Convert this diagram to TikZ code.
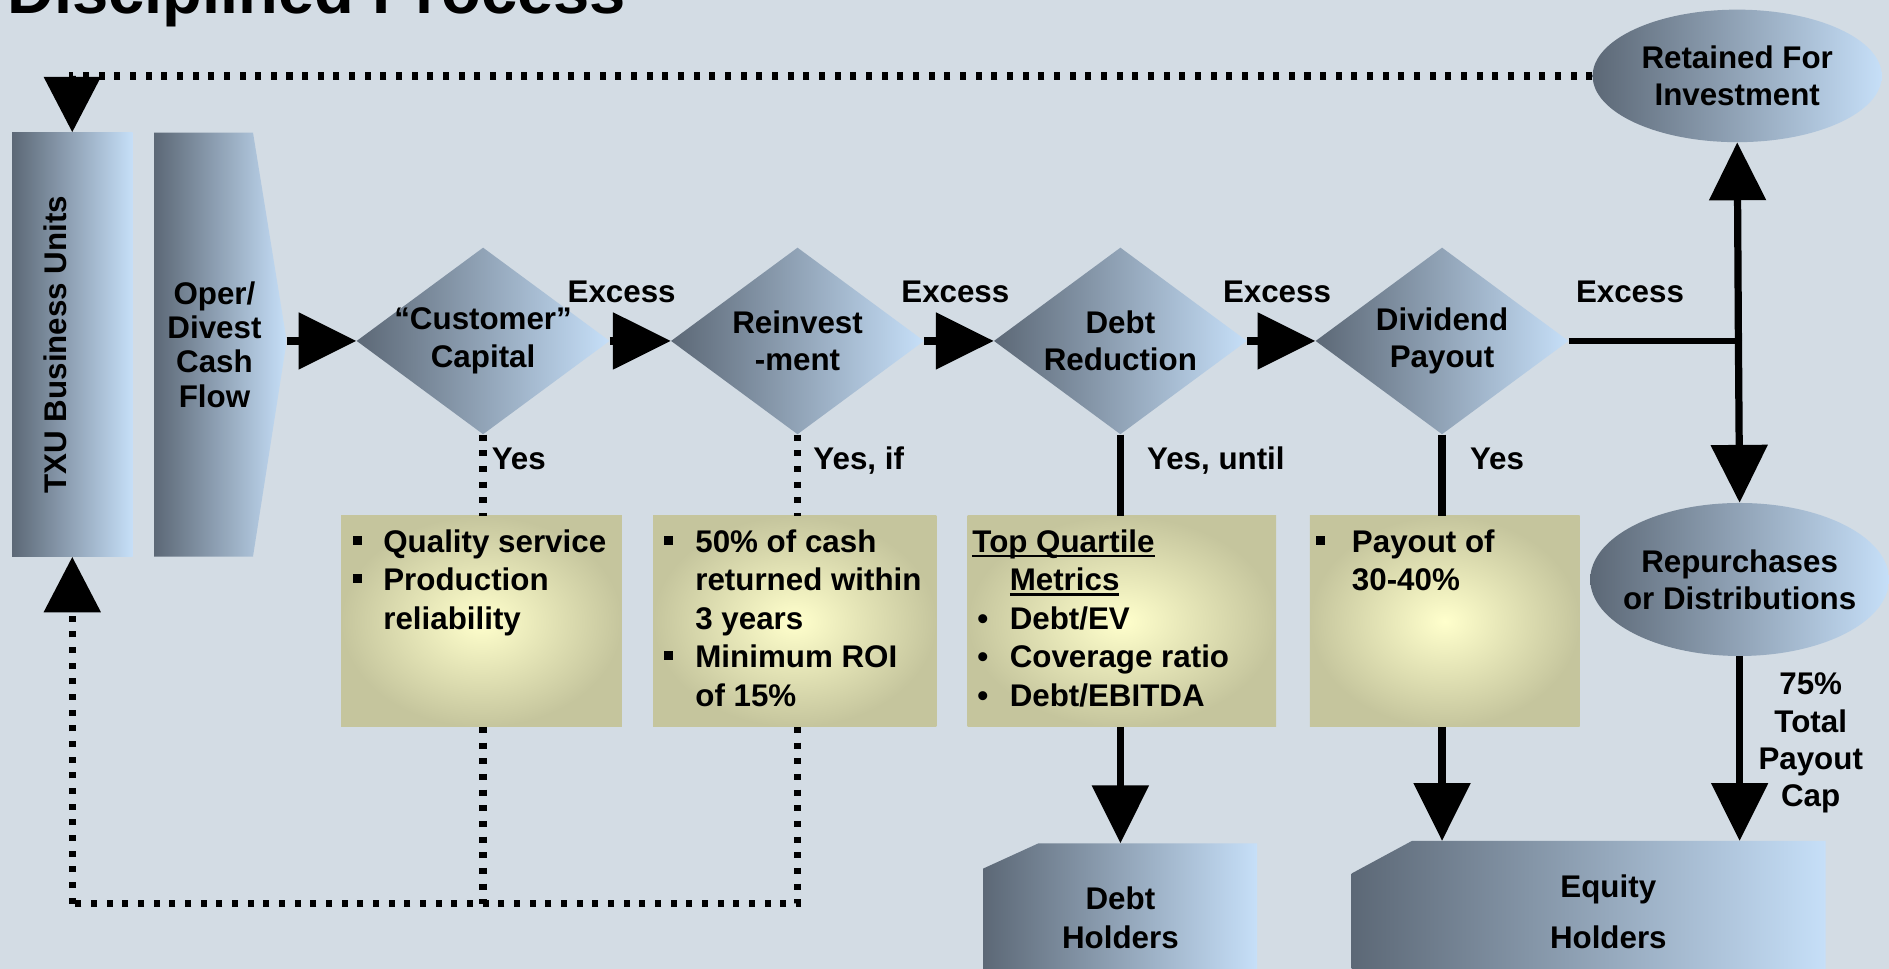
\documentclass[tikz,border=0pt]{standalone}
\usepackage{fontspec}
\setmainfont{Liberation Sans}
\usetikzlibrary{shapes.geometric,arrows.meta}
\definecolor{bgcol}{RGB}{211,220,228}
\definecolor{slate}{RGB}{92,104,118}
\definecolor{skyblue}{RGB}{198,223,248}
\definecolor{notein}{RGB}{255,255,204}
\definecolor{noteout}{RGB}{197,197,157}
\newcommand{\sqbul}{\raisebox{6pt}{\rule{7.5pt}{7.5pt}}}
\newcommand{\undl}[1]{\sbox0{#1}\rlap{\rule[-4.5pt]{\wd0}{2.2pt}}\usebox0}
\begin{document}
\begin{tikzpicture}[x=1pt,y=-1pt,
    lbl/.style={font=\fontsize{26}{31}\selectfont\bfseries,inner sep=0pt},
    grad/.style={left color=slate,right color=skyblue},
    decision/.style={diamond,grad,minimum width=210pt,minimum height=155pt,inner sep=0pt},
    note/.style={inner color=notein,outer color=noteout,minimum height=175pt,inner sep=0pt,anchor=north west},
    notetext/.style={font=\fontsize{26}{32}\selectfont\bfseries,inner sep=0pt,anchor=north west},
    flow/.style={line width=6pt,-{Triangle[length=48pt,width=46pt]}},
    dotline/.style={line width=6pt,dash pattern=on 5pt off 8pt},
    dotflow/.style={dotline,-{Triangle[length=46pt,width=46pt]}}]
    \fill[bgcol] (0,0) rectangle (1568,804);
    \useasboundingbox (0,0) rectangle (1568,804);
    \node[font=\fontsize{54}{60}\selectfont\bfseries,anchor=base west,inner sep=0pt] (title) at (6,11) {Disciplined Process};

    \node[grad,minimum width=100pt,minimum height=352pt,inner sep=0pt] (txu) at (60,286) {};
    \node[lbl,rotate=90] (txutext) at (46,286) {TXU Business Units};
    \path[grad] (128,110) -- (210,110) -- (238,283) -- (210,462) -- (128,462) -- cycle;
    \coordinate (opertip) at (238,283);
    \node[lbl,align=center,font=\fontsize{26}{28.5}\selectfont\bfseries] (oper) at (178,286) {Oper/\\Divest\\Cash\\Flow};

    \node[decision,label={[lbl,align=center]center:{“Customer”\\Capital}}] (d1) at (401,283) {};
    \node[decision,label={[lbl,align=center]center:{Reinvest\\-ment}}] (d2) at (662,283) {};
    \node[decision,label={[lbl,align=center]center:{Debt\\Reduction}}] (d3) at (930,283) {};
    \node[decision,label={[lbl,align=center]center:{Dividend\\Payout}}] (d4) at (1197,283) {};

    \node[ellipse,grad,minimum width=240pt,minimum height=110pt,inner sep=0pt,
          label={[lbl,align=center]center:{Retained For\\Investment}}] (retained) at (1442,63) {};
    \node[ellipse,grad,minimum width=248pt,minimum height=127pt,inner sep=0pt,
          label={[lbl,align=center]center:{Repurchases\\or Distributions}}] (repurch) at (1444,481) {};

    \node[note,minimum width=233pt] (box1) at (283,428) {};
    \node[note,minimum width=235pt] (box2) at (542,428) {};
    \node[note,minimum width=256pt] (box3) at (803,428) {};
    \node[note,minimum width=224pt] (box4) at (1087,428) {};
    \node[notetext] (box1text) at ([shift={(10pt,-7.6pt)}]box1.north west) {\begin{tabular}{@{}p{25pt}@{}l@{}}
        \sqbul & Quality service\\ \sqbul & Production\\ & reliability\end{tabular}};
    \node[notetext] (box2text) at ([shift={(9pt,-7.6pt)}]box2.north west) {\begin{tabular}{@{}p{26pt}@{}l@{}}
        \sqbul & 50\% of cash\\ & returned within\\ & 3 years\\ \sqbul & Minimum ROI\\ & of 15\%\end{tabular}};
    \node[notetext] (box3text) at ([shift={(4pt,-7.6pt)}]box3.north west) {\begin{tabular}{@{}p{31pt}@{}l@{}}
        \multicolumn{2}{@{}l@{}}{\undl{Top Quartile}}\\ & \undl{Metrics}\\
        \hspace*{4pt}\textbullet & Debt/EV\\ \hspace*{4pt}\textbullet & Coverage ratio\\
        \hspace*{4pt}\textbullet & Debt/EBITDA\end{tabular}};
    \node[notetext] (box4text) at ([shift={(5pt,-7.6pt)}]box4.north west) {\begin{tabular}{@{}p{30pt}@{}l@{}}
        \sqbul & Payout of\\ & 30-40\%\end{tabular}};

    \node[minimum width=227pt,minimum height=130pt,inner sep=0pt,anchor=north west] (debt) at (816,700) {};
    \path[grad] ([yshift=-21pt]debt.north west) -- ([xshift=46pt]debt.north west) -- (debt.north east)
        -- (debt.south east) -- (debt.south west) -- cycle;
    \node[lbl,align=center,font=\fontsize{26}{32}\selectfont\bfseries] (debttext) at (930,762) {Debt\\Holders};
    \node[minimum width=393pt,minimum height=130pt,inner sep=0pt,anchor=north west] (equity) at (1122,698) {};
    \path[grad] ([yshift=-27pt]equity.north west) -- ([xshift=50pt]equity.north west) -- (equity.north east)
        -- (equity.south east) -- (equity.south west) -- cycle;
    \node[lbl,align=center,font=\fontsize{26}{42}\selectfont\bfseries] (equitytext) at (1335,757) {Equity\\Holders};

    \draw[flow] (opertip) -- (d1.west);
    \draw[flow] (d1.east) -- (d2.west);
    \draw[flow] (d2.east) -- (d3.west);
    \draw[flow] (d3.east) -- (d4.west);
    \node[lbl] (ex1) at (516,242) {Excess};
    \node[lbl] (ex2) at (793,242) {Excess};
    \node[lbl] (ex3) at (1060,242) {Excess};
    \node[lbl] (ex4) at (1353,242) {Excess};

    \coordinate (split) at (1443,283);
    \draw[line width=4.5pt] (d4.east) -- (split);
    \draw[flow] (split) -- (retained.south);
    \draw[flow] (split) -- (repurch.north);
    \draw[flow] (repurch.south) -- (repurch.south |- equity.north);
    \node[lbl,align=center] (cap) at (1503,617) {75\%\\Total\\Payout\\Cap};

    \draw[line width=6pt] (d3.south) -- (d3.south |- box3.north);
    \draw[flow] (d3.south |- box3.south) -- (d3.south |- debt.north);
    \draw[line width=6pt] (d4.south) -- (d4.south |- box4.north);
    \draw[flow] (d4.south |- box4.south) -- (d4.south |- equity.north);

    \node[lbl,anchor=base west] (yes1) at (408,390) {Yes};
    \node[lbl,anchor=base west] (yes2) at (675,390) {Yes, if};
    \node[lbl,anchor=base west] (yes3) at (952,390) {Yes, until};
    \node[lbl,anchor=base west] (yes4) at (1220,390) {Yes};

    \coordinate (loop) at (60,750);
    \draw[dotline] (d1.south) -- (d1.south |- box1.north);
    \draw[dotline] (d2.south) -- (d2.south |- box2.north);
    \draw[dotline] (d1.south |- box1.south) -- (d1.south |- loop);
    \draw[dotline] (d2.south |- box2.south) |- (loop);
    \draw[dotflow] (loop) -- (txu.south);
    \draw[dotflow] (retained.west) -| (txu.north);
\end{tikzpicture}
\end{document}
